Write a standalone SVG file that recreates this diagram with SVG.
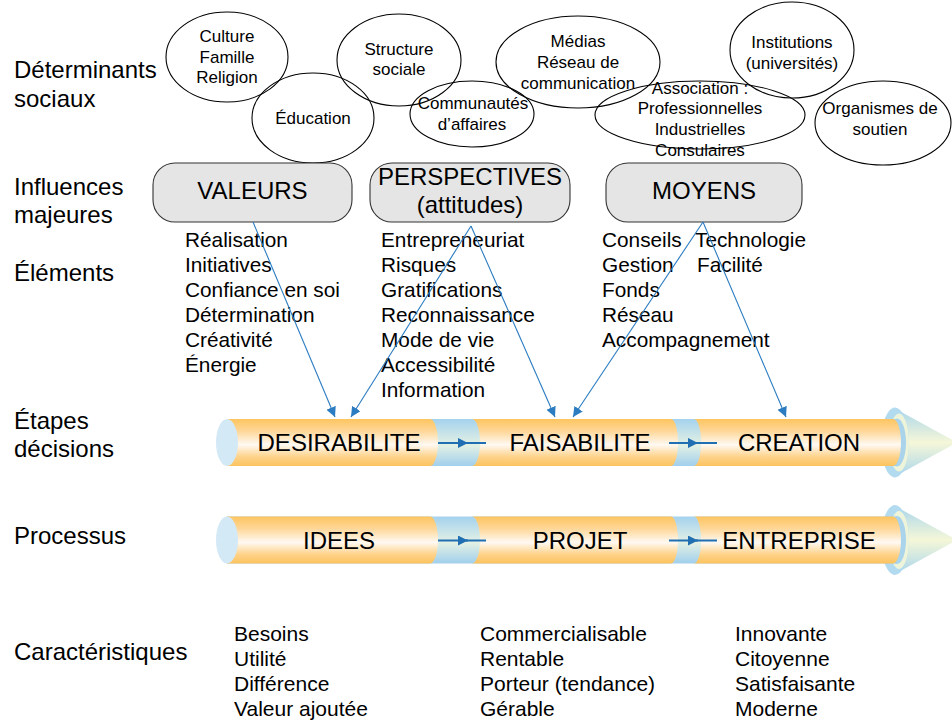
<svg xmlns="http://www.w3.org/2000/svg" width="952" height="720" viewBox="0 0 952 720">
<defs>
<style>
text{font-family:"Liberation Sans",Arial,sans-serif;fill:#000}
.lab{font-size:24px}
.el{font-size:17px;text-anchor:middle}
.bx{font-size:24px;text-anchor:middle}
.li{font-size:20.8px}
.ca{font-size:21px}
.pt{font-size:24px;text-anchor:middle}
.ell{fill:none;stroke:#000;stroke-width:1.1}
.box{fill:#E5E5E5;stroke:#333;stroke-width:1.1}
.con{stroke:#2B7CC1;stroke-width:1.1;fill:none}
.sm{stroke:#1F6FB2;stroke-width:2;fill:none}
</style>
<linearGradient id="og" x1="0" y1="0" x2="0" y2="1">
<stop offset="0" stop-color="#FDC560"/>
<stop offset="0.25" stop-color="#FED696"/>
<stop offset="0.55" stop-color="#FFF9F2"/>
<stop offset="0.8" stop-color="#FED38C"/>
<stop offset="1" stop-color="#FCC35E"/>
</linearGradient>
<linearGradient id="bg" x1="0" y1="0" x2="0" y2="1">
<stop offset="0" stop-color="#A4D2EE"/>
<stop offset="0.55" stop-color="#E4F1E4"/>
<stop offset="1" stop-color="#A0CFEC"/>
</linearGradient>
<linearGradient id="cg" x1="0" y1="0" x2="0" y2="1">
<stop offset="0" stop-color="#A8D5EC"/>
<stop offset="0.5" stop-color="#F5F7D8"/>
<stop offset="1" stop-color="#A8D5EC"/>
</linearGradient>
<marker id="ah" viewBox="0 0 10 10" refX="10" refY="5" markerWidth="10" markerHeight="10" markerUnits="userSpaceOnUse" orient="auto">
<path d="M0,0 L10,5 L0,10 Z" fill="#2B7CC1"/>
</marker>
<marker id="ah2" viewBox="0 0 10 10" refX="10" refY="5" markerWidth="12" markerHeight="10" markerUnits="userSpaceOnUse" orient="auto">
<path d="M0,0 L10,5 L0,10 Z" fill="#1F6FB2"/>
</marker>
<g id="pipe">
<polygon points="893,-35 957,0 893,35" fill="url(#cg)"/>
<ellipse cx="895" cy="0" rx="14" ry="35" fill="#B3DBEF"/>
<ellipse cx="899" cy="0" rx="10" ry="29" fill="#EEF4DA"/>
<ellipse cx="897" cy="0" rx="9" ry="24" fill="#A9D4EC"/>
<rect x="227" y="-23.5" width="670" height="47" fill="url(#bg)"/>
<path d="M227,-23.5 L430,-23.5 A8,23.5 0 0 1 430,23.5 L227,23.5 Z" fill="url(#og)"/>
<path d="M472,-23.5 L671,-23.5 A7,23.5 0 0 1 671,23.5 L472,23.5 A8,23.5 0 0 0 472,-23.5 Z" fill="url(#og)"/>
<path d="M694,-23.5 L893,-23.5 A8,23.5 0 0 1 893,23.5 L694,23.5 A7,23.5 0 0 0 694,-23.5 Z" fill="url(#og)"/>
<ellipse cx="227" cy="0" rx="11" ry="23.5" fill="#D4E9F6"/>
</g>
</defs>
<rect width="952" height="720" fill="#fff"/>

<g id="labels">
<text class="lab" x="14" y="78">Déterminants</text>
<text class="lab" x="14" y="107">sociaux</text>
<text class="lab" x="14" y="195">Influences</text>
<text class="lab" x="14" y="223">majeures</text>
<text class="lab" x="14" y="281">Éléments</text>
<text class="lab" x="14" y="429">Étapes</text>
<text class="lab" x="14" y="457">décisions</text>
<text class="lab" x="14" y="544">Processus</text>
<text class="lab" x="14" y="660">Caractéristiques</text>
</g>

<g id="e-culture"><ellipse class="ell" cx="227" cy="57" rx="61" ry="45"/>
<text class="el" x="227" y="42">Culture</text><text class="el" x="227" y="63">Famille</text><text class="el" x="227" y="83">Religion</text></g>
<g id="e-education"><ellipse class="ell" cx="313" cy="118" rx="61" ry="45"/>
<text class="el" x="313" y="124">Éducation</text></g>
<g id="e-structure"><ellipse class="ell" cx="399" cy="60" rx="62" ry="46"/>
<text class="el" x="399" y="55">Structure</text><text class="el" x="399" y="75">sociale</text></g>
<g id="e-communautes"><ellipse class="ell" cx="472" cy="114" rx="62" ry="33"/>
<text class="el" x="473" y="109">Communautés</text><text class="el" x="472" y="130">d’affaires</text></g>
<g id="e-medias"><ellipse class="ell" cx="578" cy="62" rx="82" ry="46"/>
<text class="el" x="578" y="47">Médias</text><text class="el" x="578" y="68">Réseau de</text><text class="el" x="578" y="89">communication</text></g>
<g id="e-association"><ellipse class="ell" cx="700" cy="115" rx="105" ry="34"/>
<text class="el" x="700" y="94">Association :</text><text class="el" x="700" y="114">Professionnelles</text><text class="el" x="700" y="135">Industrielles</text><text class="el" x="700" y="156">Consulaires</text></g>
<g id="e-institutions"><ellipse class="ell" cx="792" cy="50" rx="62" ry="48"/>
<text class="el" x="792" y="48">Institutions</text><text class="el" x="792" y="69">(universités)</text></g>
<g id="e-organismes"><ellipse class="ell" cx="883" cy="123" rx="68" ry="42"/>
<text class="el" x="880" y="114">Organismes de</text><text class="el" x="880" y="135">soutien</text></g>

<g id="b-valeurs"><rect class="box" x="153" y="163" width="199" height="59" rx="22"/>
<text class="bx" x="252.5" y="199">VALEURS</text></g>
<g id="b-perspectives"><rect class="box" x="370" y="163" width="200" height="59" rx="22"/>
<text class="bx" x="470" y="185">PERSPECTIVES</text><text class="bx" x="470" y="213">(attitudes)</text></g>
<g id="b-moyens"><rect class="box" x="606" y="163" width="196" height="59" rx="22"/>
<text class="bx" x="704" y="199">MOYENS</text></g>

<g id="l-valeurs" class="li">
<text x="185" y="247">Réalisation</text><text x="185" y="272">Initiatives</text><text x="185" y="297">Confiance en soi</text><text x="185" y="322">Détermination</text><text x="185" y="347">Créativité</text><text x="185" y="372">Énergie</text>
</g>
<g id="l-perspectives" class="li">
<text x="381" y="247">Entrepreneuriat</text><text x="381" y="272">Risques</text><text x="381" y="297">Gratifications</text><text x="381" y="322">Reconnaissance</text><text x="381" y="347">Mode de vie</text><text x="381" y="372">Accessibilité</text><text x="381" y="397">Information</text>
</g>
<g id="l-moyens" class="li">
<text x="602" y="247">Conseils</text><text x="602" y="272">Gestion</text><text x="602" y="297">Fonds</text><text x="602" y="322">Réseau</text><text x="602" y="347">Accompagnement</text>
<text x="695" y="247">Technologie</text><text x="697" y="272">Facilité</text>
</g>

<g id="pipe-etapes">
<use href="#pipe" transform="translate(0,442.5)"/>
<text class="pt" x="339" y="451" textLength="163" lengthAdjust="spacingAndGlyphs">DESIRABILITE</text>
<text class="pt" x="580" y="451" textLength="141" lengthAdjust="spacingAndGlyphs">FAISABILITE</text>
<text class="pt" x="799" y="451">CREATION</text>
</g>
<g id="pipe-processus">
<use href="#pipe" transform="translate(0,540)"/>
<text class="pt" x="339" y="548.5">IDEES</text>
<text class="pt" x="580" y="548.5">PROJET</text>
<text class="pt" x="799" y="548.5">ENTREPRISE</text>
</g>

<g id="c-idees" class="ca"><text x="234" y="641">Besoins</text><text x="234" y="666">Utilité</text><text x="234" y="691">Différence</text><text x="234" y="716">Valeur ajoutée</text></g>
<g id="c-projet" class="ca"><text x="480" y="641">Commercialisable</text><text x="480" y="666">Rentable</text><text x="480" y="691">Porteur (tendance)</text><text x="480" y="716">Gérable</text></g>
<g id="c-entreprise" class="ca"><text x="735" y="641">Innovante</text><text x="735" y="666">Citoyenne</text><text x="735" y="691">Satisfaisante</text><text x="735" y="716">Moderne</text></g>

<g id="connectors">
<line class="con" x1="253" y1="222" x2="335" y2="417" marker-end="url(#ah)"/>
<line class="con" x1="471" y1="226" x2="351" y2="417" marker-end="url(#ah)"/>
<line class="con" x1="471" y1="226" x2="555" y2="417" marker-end="url(#ah)"/>
<line class="con" x1="703" y1="222" x2="573" y2="417" marker-end="url(#ah)"/>
<line class="con" x1="703" y1="222" x2="786" y2="417" marker-end="url(#ah)"/>
<line class="sm" x1="438" y1="443" x2="468" y2="443" marker-end="url(#ah2)"/><line class="sm" x1="466" y1="443" x2="486" y2="443"/>
<line class="sm" x1="669" y1="443" x2="698" y2="443" marker-end="url(#ah2)"/><line class="sm" x1="696" y1="443" x2="717" y2="443"/>
<line class="sm" x1="438" y1="540.5" x2="468" y2="540.5" marker-end="url(#ah2)"/><line class="sm" x1="466" y1="540.5" x2="486" y2="540.5"/>
<line class="sm" x1="669" y1="540.5" x2="698" y2="540.5" marker-end="url(#ah2)"/><line class="sm" x1="696" y1="540.5" x2="717" y2="540.5"/>
</g>
</svg>
